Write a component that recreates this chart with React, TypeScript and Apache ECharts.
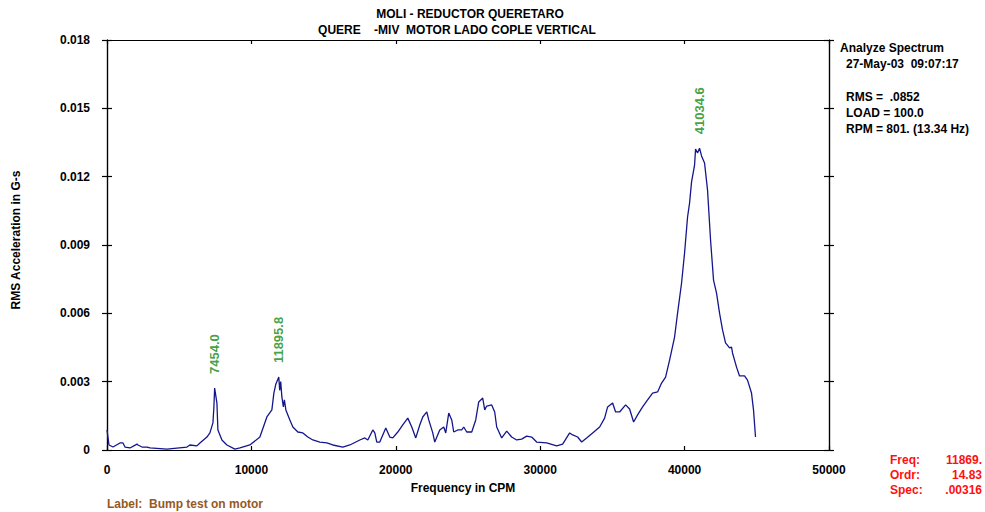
import React, { useEffect, useRef } from "react";
import * as echarts from "echarts";

// Spectrum: frequency (CPM) and RMS acceleration (G-s)
const FREQ_CPM = [
  0, 138, 415, 900, 1107, 1246, 1592, 2076, 2145, 2422, 2768, 2976, 4152, 5536, 5744, 6228,
  6436, 6920, 7128, 7335, 7404, 7454.0, 7612, 7681, 7958, 8304, 8858, 9204, 9896, 10588, 11072,
  11418, 11556, 11695, 11869, 11895.8, 11960, 12030, 12110, 12214, 12283, 12387, 12664, 12871,
  13217, 13563, 13909, 14255, 14740, 15224, 15639, 16331, 16816, 17508, 17854, 18061, 18407,
  18546, 18684, 18892, 19307, 19584, 19791, 20137, 20483, 20829, 21106, 21383, 21660, 21867,
  22144, 22282, 22559, 22698, 23044, 23320, 23459, 23666, 23874, 24012, 24289, 24566, 24704,
  24912, 25258, 25535, 25742, 26019, 26158, 26296, 26642, 26850, 26988, 27334, 27680, 28026,
  28372, 28718, 29064, 29410, 29756, 30448, 31140, 31555, 32040, 32247, 32593, 32870, 33216,
  33631, 34116, 34462, 34669, 35015, 35223, 35500, 35915, 36192, 36468, 36745, 37091, 37437,
  37783, 38129, 38406, 38683, 38960, 39306, 39513, 39790, 39998, 40205, 40344, 40482, 40690,
  40759, 40897, 41034.6, 41174, 41382, 41589, 41797, 42004, 42212, 42420, 42627, 42835, 43112,
  43250, 43319, 43596, 43804, 44150, 44357, 44634, 44772, 44911,
];

const AMPL_G = [
  0.00088, 0.00022, 0.00013, 0.00031, 0.00031, 0.00013, 0.00009, 0.00026, 0.00022, 0.00013,
  0.00013, 0.00009, 0.00004, 0.00013, 0.00022, 0.00018, 0.00031, 0.00057, 0.00075, 0.00119,
  0.00189, 0.00272, 0.00206, 0.00088, 0.00044, 0.00022, 0.00004, 0.00009, 0.00022, 0.00057,
  0.00145, 0.00176, 0.0025, 0.0029, 0.00316, 0.0032, 0.00262, 0.003, 0.00233, 0.00189, 0.0022,
  0.00176, 0.00132, 0.00101, 0.00079, 0.00075, 0.00057, 0.00044, 0.00035, 0.00031, 0.00022,
  0.00013, 0.00022, 0.00044, 0.00053, 0.00044, 0.00088, 0.00075, 0.00035, 0.00035, 0.00097,
  0.00057, 0.00053, 0.00079, 0.0011, 0.0014, 0.00101, 0.00053, 0.0011, 0.00145, 0.00167,
  0.00132, 0.00075, 0.00035, 0.00088, 0.00101, 0.00075, 0.00162, 0.00132, 0.00079, 0.00088,
  0.00088, 0.00101, 0.00079, 0.00079, 0.00132, 0.00211, 0.00228, 0.00176, 0.00193, 0.00198,
  0.00167, 0.00101, 0.00053, 0.00083, 0.00057, 0.00044, 0.00048, 0.00061, 0.00057, 0.00035,
  0.00031, 0.00018, 0.00026, 0.00075, 0.00066, 0.00057, 0.00035, 0.00053, 0.00075, 0.00101,
  0.0014, 0.00189, 0.00206, 0.00167, 0.00167, 0.00198, 0.0018, 0.00123, 0.00154, 0.00189,
  0.0022, 0.0025, 0.00255, 0.00294, 0.0032, 0.00395, 0.00496, 0.00601, 0.00733, 0.00865,
  0.01023, 0.01084, 0.01177, 0.01251, 0.01321, 0.01304, 0.01325, 0.01291, 0.0126, 0.01141,
  0.00922, 0.00746, 0.00689, 0.00601, 0.00527, 0.0047, 0.00448, 0.00452, 0.00426, 0.00364,
  0.00325, 0.00325, 0.00307, 0.0025, 0.00176, 0.00057,
];

// Labelled spectral peaks (CPM)
const PEAK_FREQS = [7454.0, 11895.8, 41034.6];

const X_MIN = 0;
const X_MAX = 50000;
const X_STEP = 10000;
const Y_MIN = 0;
const Y_MAX = 0.018;
const Y_STEP = 0.003;

const TITLE_LINES = ["MOLI - REDUCTOR QUERETARO", "QUERE    -MIV  MOTOR LADO COPLE VERTICAL"];
const INFO_HEADER = ["Analyze Spectrum", "27-May-03  09:07:17"];
const INFO_VALUES = ["RMS =  .0852", "LOAD = 100.0", "RPM = 801. (13.34 Hz)"];
const CURSOR_ROWS: [string, string][] = [
  ["Freq:", "11869."],
  ["Ordr:", "14.83"],
  ["Spec:", ".00316"],
];
const X_NAME = "Frequency in CPM";
const Y_NAME = "RMS Acceleration in G-s";
const FOOT_LABEL = "Label:  Bump test on motor";

const FAMILY = "'Liberation Sans', Arial, Helvetica, sans-serif";
const FONT = `bold 12px ${FAMILY}`;
const LINE_COLOR = "#15168c";
const PEAK_COLOR = "#108a10";
const CURSOR_COLOR = "#ff1010";
const LABEL_COLOR = "#97581f";

const GRID = { left: 107, right: 156, top: 40, bottom: 62 };

function text(x: number, y: number, t: string, fill = "#000", align = "left", extra: any = {}) {
  return {
    type: "text",
    x,
    y,
    silent: true,
    ...extra,
    style: { text: t, font: FONT, fill, textAlign: align, textVerticalAlign: "middle" },
  };
}

export default function App() {
  const ref = useRef<HTMLDivElement>(null);

  useEffect(() => {
    if (!ref.current) return;
    const chart = echarts.init(ref.current, undefined, { renderer: "svg" });

    const axisLine = { show: true, onZero: false, lineStyle: { color: "#000", width: 1.2 } };
    const tickStyle = { color: "#000", width: 1.2 };
    const labelFont = { color: "#000", fontWeight: "bold", fontSize: 12, fontFamily: FAMILY };

    const xBase = {
      type: "value",
      min: X_MIN,
      max: X_MAX,
      interval: X_STEP,
      splitLine: { show: false },
      axisLine,
    };
    const yBase = {
      type: "value",
      min: Y_MIN,
      max: Y_MAX,
      interval: Y_STEP,
      splitLine: { show: false },
      axisLine,
    };

    const spectrum = FREQ_CPM.map((f, i) => [f, AMPL_G[i]]);
    const peaks = PEAK_FREQS.map((f) => [f, AMPL_G[FREQ_CPM.indexOf(f)]]);

    const graphic: any[] = [
      text(470, 14, TITLE_LINES[0], "#000", "center"),
      text(457, 30, TITLE_LINES[1], "#000", "center"),
      text(840, 48, INFO_HEADER[0]),
      text(846, 64, INFO_HEADER[1]),
      text(846, 97, INFO_VALUES[0]),
      text(846, 113, INFO_VALUES[1]),
      text(846, 129, INFO_VALUES[2]),
      text(463, 488, X_NAME, "#000", "center"),
      text(16, 240, Y_NAME, "#000", "center", { rotation: Math.PI / 2 }),
      text(107, 504, FOOT_LABEL, LABEL_COLOR),
    ];
    CURSOR_ROWS.forEach(([k, v], i) => {
      const y = 460 + i * 15;
      graphic.push(text(890, y, k, CURSOR_COLOR));
      graphic.push(text(982, y, v, CURSOR_COLOR, "right"));
    });

    chart.setOption({
      animation: false,
      backgroundColor: "#fff",
      grid: GRID,
      xAxis: [
        {
          ...xBase,
          position: "bottom",
          axisTick: { show: true, inside: true, length: 4, lineStyle: tickStyle },
          axisLabel: { show: true, margin: 14, ...labelFont, formatter: (v: number) => String(v) },
        },
        {
          ...xBase,
          position: "top",
          axisTick: { show: true, inside: true, length: 4, lineStyle: tickStyle },
          axisLabel: { show: false },
        },
      ],
      yAxis: [
        {
          ...yBase,
          position: "left",
          axisTick: { show: true, inside: false, length: 5, lineStyle: tickStyle },
          axisLabel: {
            show: true,
            margin: 17,
            ...labelFont,
            formatter: (v: number) => (v === 0 ? "0" : v.toFixed(3)),
          },
        },
        {
          ...yBase,
          position: "left",
          axisTick: { show: true, inside: true, length: 5, lineStyle: tickStyle },
          axisLabel: { show: false },
        },
        {
          ...yBase,
          position: "right",
          axisTick: { show: true, inside: false, length: 5, lineStyle: tickStyle },
          axisLabel: { show: false },
        },
        {
          ...yBase,
          position: "right",
          axisTick: { show: true, inside: true, length: 5, lineStyle: tickStyle },
          axisLabel: { show: false },
        },
      ],
      series: [
        {
          type: "line",
          xAxisIndex: 0,
          yAxisIndex: 0,
          data: spectrum,
          showSymbol: false,
          symbol: "none",
          lineStyle: { color: LINE_COLOR, width: 1.3 },
          silent: true,
        },
        {
          type: "scatter",
          xAxisIndex: 0,
          yAxisIndex: 0,
          data: peaks,
          symbolSize: 0,
          silent: true,
          label: {
            show: true,
            position: "top",
            distance: 14,
            rotate: 90,
            align: "left",
            verticalAlign: "middle",
            color: PEAK_COLOR,
            fontWeight: "bold",
            fontSize: 13,
            fontFamily: FAMILY,
            formatter: (p: any) => p.value[0].toFixed(1),
          },
        },
      ],
      graphic,
    });

    return () => chart.dispose();
  }, []);

  return (
    <div
      ref={ref}
      style={{ position: "fixed", left: 0, top: 0, width: 985, height: 512, background: "#fff" }}
    />
  );
}
